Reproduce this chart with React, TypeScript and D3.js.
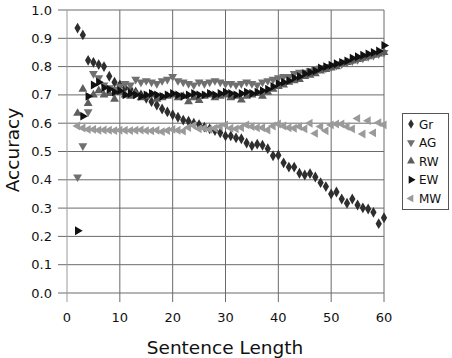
import React from "react";
import * as d3 from "d3";

const xValues: number[] = d3.range(2, 61);

const gr: number[] = [0.936, 0.912, 0.822, 0.815, 0.807, 0.8, 0.766, 0.745, 0.735, 0.725, 0.72, 0.71, 0.7, 0.688, 0.676, 0.664, 0.65, 0.64, 0.63, 0.621, 0.611, 0.607, 0.6, 0.595, 0.586, 0.58, 0.574, 0.566, 0.555, 0.555, 0.548, 0.545, 0.53, 0.52, 0.526, 0.522, 0.51, 0.485, 0.487, 0.46, 0.445, 0.445, 0.423, 0.417, 0.422, 0.41, 0.39, 0.376, 0.35, 0.357, 0.332, 0.317, 0.332, 0.311, 0.301, 0.297, 0.285, 0.245, 0.266];
const ag: number[] = [0.41, 0.52, 0.64, 0.775, 0.76, 0.735, 0.725, 0.72, 0.73, 0.74, 0.735, 0.755, 0.745, 0.75, 0.745, 0.74, 0.75, 0.755, 0.765, 0.75, 0.745, 0.74, 0.735, 0.745, 0.74, 0.745, 0.75, 0.745, 0.74, 0.74, 0.735, 0.74, 0.745, 0.74, 0.735, 0.745, 0.75, 0.755, 0.76, 0.765, 0.765, 0.775, 0.78, 0.78, 0.785, 0.79, 0.795, 0.795, 0.8, 0.805, 0.81, 0.815, 0.82, 0.825, 0.83, 0.835, 0.84, 0.845, 0.85];
const rw: number[] = [0.635, 0.72, 0.67, 0.7, 0.715, 0.7, 0.705, 0.685, 0.71, 0.7, 0.695, 0.705, 0.69, 0.695, 0.7, 0.685, 0.69, 0.695, 0.7, 0.69, 0.695, 0.676, 0.69, 0.68, 0.695, 0.7, 0.69, 0.695, 0.7, 0.69, 0.695, 0.682, 0.695, 0.7, 0.705, 0.695, 0.71, 0.72, 0.73, 0.735, 0.745, 0.75, 0.755, 0.765, 0.77, 0.775, 0.785, 0.79, 0.795, 0.8, 0.81, 0.815, 0.82, 0.825, 0.83, 0.835, 0.84, 0.845, 0.85];
const ew: number[] = [0.22, 0.625, 0.695, 0.735, 0.745, 0.725, 0.72, 0.71, 0.715, 0.7, 0.705, 0.7, 0.695, 0.7, 0.705, 0.7, 0.695, 0.7, 0.705, 0.7, 0.695, 0.7, 0.705, 0.7, 0.7, 0.705, 0.7, 0.705, 0.71, 0.705, 0.7, 0.705, 0.71, 0.705, 0.71, 0.715, 0.72, 0.73, 0.74, 0.745, 0.75, 0.76, 0.765, 0.775, 0.78, 0.785, 0.795, 0.8, 0.805, 0.81, 0.815, 0.82, 0.83, 0.835, 0.84, 0.845, 0.85, 0.855, 0.875];
const mw: number[] = [0.59, 0.583, 0.578, 0.578, 0.575, 0.576, 0.575, 0.574, 0.575, 0.575, 0.574, 0.575, 0.576, 0.574, 0.573, 0.575, 0.57, 0.574, 0.578, 0.575, 0.572, 0.585, 0.592, 0.58, 0.582, 0.578, 0.582, 0.588, 0.594, 0.582, 0.58, 0.585, 0.594, 0.588, 0.584, 0.584, 0.576, 0.59, 0.597, 0.59, 0.584, 0.582, 0.588, 0.58, 0.6, 0.564, 0.588, 0.573, 0.594, 0.597, 0.597, 0.588, 0.58, 0.617, 0.562, 0.609, 0.566, 0.602, 0.594];

const seriesNames: string[] = ["Gr", "AG", "RW", "EW", "MW"];
const xTicks: number[] = [0, 10, 20, 30, 40, 50, 60];
const yTicks: number[] = d3.range(0, 11).map((i) => i / 10);

const seriesData = [gr, ag, rw, ew, mw];
const styles = [
  { shape: d3.symbolDiamond, rot: 0, fill: "#2e2e2e", size: 34 },
  { shape: d3.symbolTriangle, rot: 180, fill: "#707070", size: 34 },
  { shape: d3.symbolTriangle, rot: 0, fill: "#5e5e5e", size: 34 },
  { shape: d3.symbolTriangle, rot: 90, fill: "#111111", size: 34 },
  { shape: d3.symbolTriangle, rot: 270, fill: "#9a9a9a", size: 34 },
];

export default function App() {
  const W = 452, H = 358;
  const x = d3.scaleLinear().domain([0, 60]).range([67, 384]);
  const y = d3.scaleLinear().domain([0, 1]).range([293, 10]);
  const font = "DejaVu Sans, sans-serif";
  return (
    <svg width={W} height={H} style={{ position: "absolute", left: 0, top: 0, background: "#fff" }} fontFamily={font}>
      {yTicks.map((t) => (
        <g key={"y" + t}>
          <line x1={58} x2={x(60)} y1={y(t)} y2={y(t)} stroke="#6a6a6a" strokeWidth={1} />
          <text x={52} y={y(t) + 4.5} fontSize={13} textAnchor="end" fill="#111">{t.toFixed(1)}</text>
        </g>
      ))}
      {xTicks.map((t) => (
        <g key={"x" + t}>
          <line x1={x(t)} x2={x(t)} y1={y(1)} y2={302} stroke={t === 0 ? "#9a9a9a" : "#6a6a6a"} strokeWidth={1} />
          <text x={x(t)} y={322} fontSize={13} textAnchor="middle" fill="#111">{t}</text>
        </g>
      ))}
      {seriesData.map((vals, si) => {
        const st = styles[si];
        const path = d3.symbol().type(st.shape).size(st.size)()!;
        return (
          <g key={"s" + si}>
            {vals.map((v, i) => (
              <path key={i} d={path} fill={st.fill} stroke="none"
                transform={`translate(${x(xValues[i])},${y(v)}) rotate(${st.rot})`} />
            ))}
          </g>
        );
      })}
      <rect x={402.5} y={113.5} width={46} height={96} fill="#fff" stroke="#555" strokeWidth={1} />
      {seriesNames.map((n, i) => {
        const st = styles[i];
        const path = d3.symbol().type(st.shape).size(st.size * 0.8)()!;
        const ly = 124 + i * 18.6;
        return (
          <g key={"l" + n}>
            <path d={path} fill={st.fill} transform={`translate(411,${ly}) rotate(${st.rot})`} />
            <text x={419} y={ly + 4.5} fontSize={12} fill="#111">{n}</text>
          </g>
        );
      })}
      <text x={225} y={354} fontSize={18.5} textAnchor="middle" fill="#111">Sentence Length</text>
      <text transform="translate(19,150) rotate(-90)" fontSize={18.5} textAnchor="middle" fill="#111">Accuracy</text>
    </svg>
  );
}
